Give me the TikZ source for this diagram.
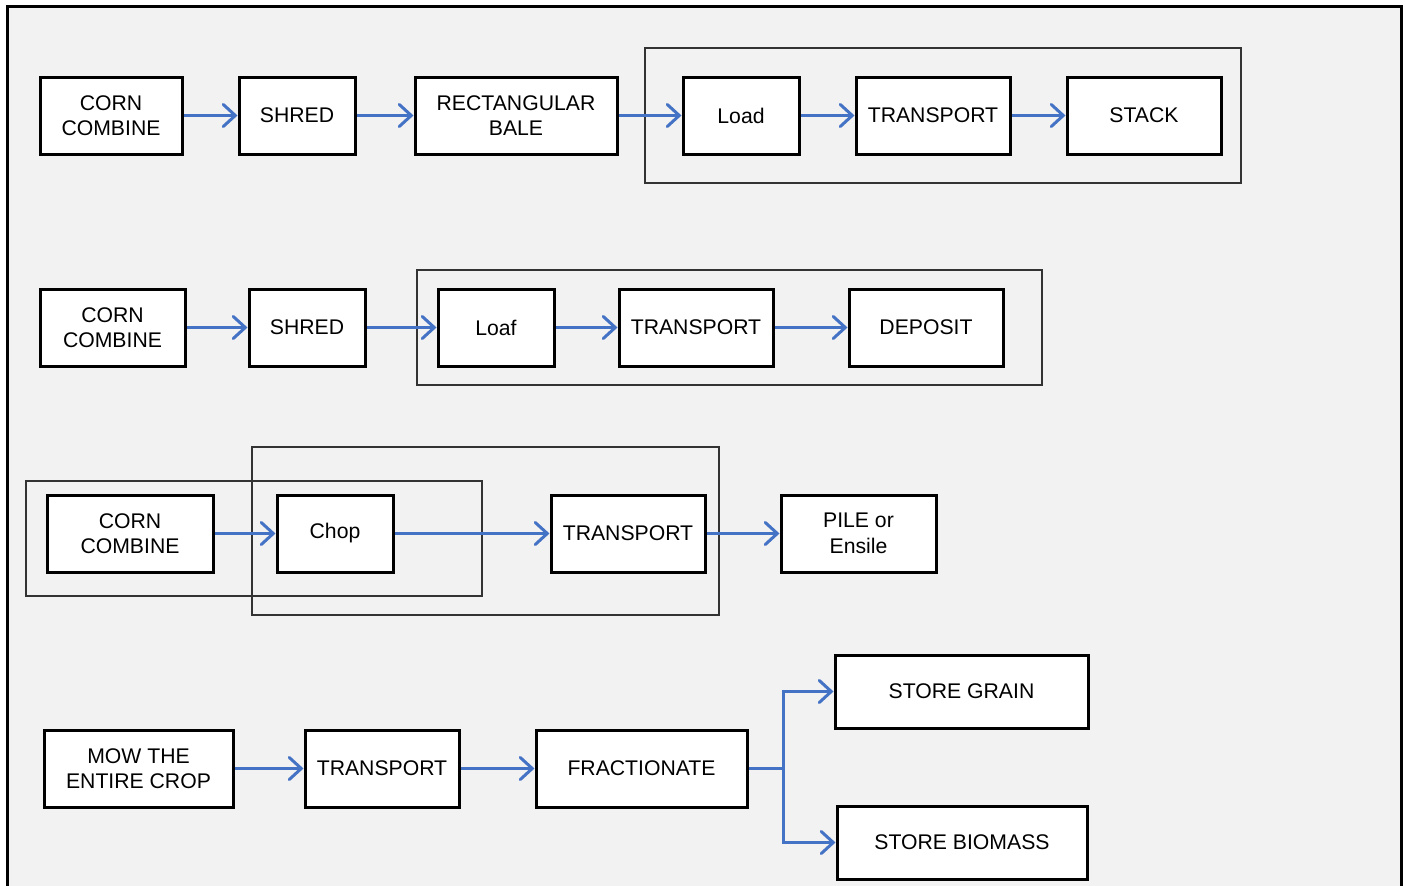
\documentclass[tikz,border=0pt]{standalone}
\usepackage{fontspec}
\setmainfont{Liberation Sans}
\usetikzlibrary{arrows.meta}
\definecolor{arrblue}{HTML}{4472C4}
\definecolor{bggray}{HTML}{F2F2F2}
\begin{document}
\begin{tikzpicture}[x=1pt,y=-1pt,
  box/.style={draw=black, line width=3pt, fill=white, align=center, inner sep=0pt,
    font=\fontsize{21.2}{25.5}\selectfont},
  grp/.style={draw=black!80, line width=1.1pt},
  arr/.style={draw=arrblue, line width=3pt, -{Straight Barb[length=12pt,width=22pt,line cap=round]}},
  arrl/.style={draw=arrblue, line width=3pt}]
\useasboundingbox (0,0) rectangle (1406,886);
\fill[white] (0,0) rectangle (1406,886);
\fill[bggray] (7,6) rectangle (1401,886);
\draw[line width=3pt] (7,888) -- (7,6) -- (1401,6) -- (1401,888);

% group rectangles
\draw[grp] (645,48) rectangle (1241,183);
\draw[grp] (417,270) rectangle (1042,385);
\draw[grp] (26,481) rectangle (482,596);
\draw[grp] (252,447) rectangle (719,615);

% row 1
\node[box, minimum width=142pt, minimum height=77pt] (a1) at (111,115.5) {CORN\\COMBINE};
\node[box, minimum width=116pt, minimum height=77pt] (a2) at (297,115.5) {SHRED};
\node[box, minimum width=202pt, minimum height=77pt] (a3) at (516,115.5) {RECTANGULAR\\BALE};
\node[box, minimum width=116pt, minimum height=77pt] (a4) at (741,115.5) {Load};
\node[box, minimum width=154pt, minimum height=77pt] (a5) at (933,115.5) {TRANSPORT};
\node[box, minimum width=154pt, minimum height=77pt] (a6) at (1144,115.5) {STACK};
\draw[arr] (a1) -- (a2);
\draw[arr] (a2) -- (a3);
\draw[arr] (a3) -- (a4);
\draw[arr] (a4) -- (a5);
\draw[arr] (a5) -- (a6);

% row 2
\node[box, minimum width=145pt, minimum height=77pt] (b1) at (112.5,327.5) {CORN\\COMBINE};
\node[box, minimum width=116pt, minimum height=77pt] (b2) at (307,327.5) {SHRED};
\node[box, minimum width=116pt, minimum height=77pt] (b3) at (496,327.5) {Loaf};
\node[box, minimum width=154pt, minimum height=77pt] (b4) at (696,327.5) {TRANSPORT};
\node[box, minimum width=154pt, minimum height=77pt] (b5) at (926,327.5) {DEPOSIT};
\draw[arr] (b1) -- (b2);
\draw[arr] (b2) -- (b3);
\draw[arr] (b3) -- (b4);
\draw[arr] (b4) -- (b5);

% row 3
\node[box, minimum width=166pt, minimum height=77pt] (c1) at (130,533.5) {CORN\\COMBINE};
\node[box, minimum width=116pt, minimum height=77pt] (c2) at (335,533.5) {Chop};
\node[box, minimum width=154pt, minimum height=77pt] (c3) at (628,533.5) {TRANSPORT};
\node[box, minimum width=155pt, minimum height=77pt] (c4) at (858.5,533.5) {PILE or\\Ensile};
\draw[arr] (c1) -- (c2);
\draw[arr] (c2) -- (c3);
\draw[arr] (c3) -- (c4);

% row 4
\node[box, minimum width=189pt, minimum height=77pt] (d1) at (138.5,768.5) {MOW THE\\ENTIRE CROP};
\node[box, minimum width=154pt, minimum height=77pt] (d2) at (382,768.5) {TRANSPORT};
\node[box, minimum width=211pt, minimum height=77pt] (d3) at (641.5,768.5) {FRACTIONATE};
\node[box, minimum width=253pt, minimum height=73pt] (d4) at (961.5,691.5) {STORE GRAIN};
\node[box, minimum width=250pt, minimum height=73pt] (d5) at (962,842.5) {STORE BIOMASS};
\coordinate (br) at (783,768.5);
\draw[arr] (d1) -- (d2);
\draw[arr] (d2) -- (d3);
\draw[arrl] (d3.east) -- (br);
\draw[arr] (br) |- (d4.west);
\draw[arr] (br) |- (d5.west);
\end{tikzpicture}
\end{document}
